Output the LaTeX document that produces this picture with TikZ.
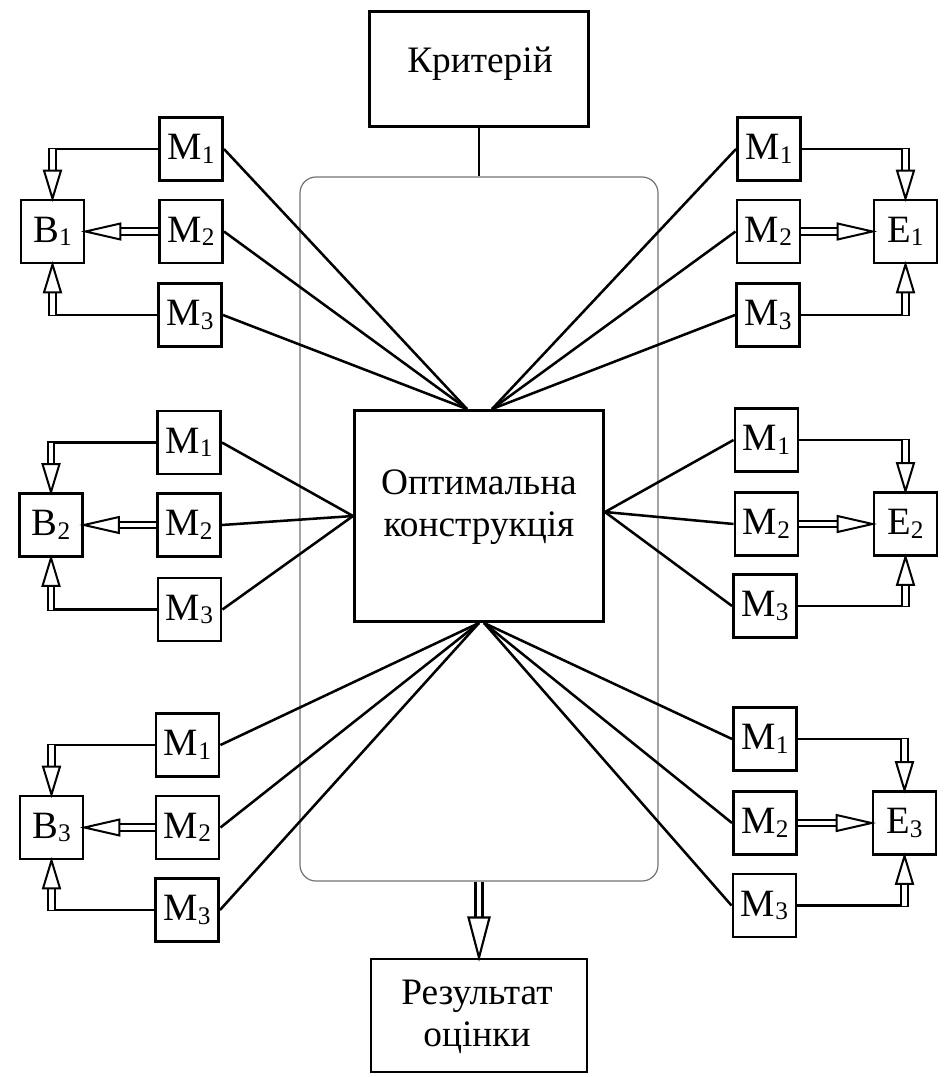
\documentclass[tikz,border=0pt]{standalone}
\usepackage{fontspec}
\setmainfont{Liberation Serif}
\usetikzlibrary{calc}
\newcommand\ix[1]{\raisebox{-2.6pt}{\fontsize{19}{19}\selectfont #1}}
\begin{document}
\begin{tikzpicture}[x=0.75pt,y=-0.75pt,
  box/.style={draw, line width=2.2pt, inner sep=0pt, minimum width=47.25pt, minimum height=47.25pt, font=\fontsize{29}{31}\selectfont},
  lbl/.style={inner sep=0pt, font=\fontsize{28}{31}\selectfont, align=center},
  spoke/.style={line width=1.9pt},
  fb/.style={line width=1.7pt},
  dbl/.style={double, double distance=3.4pt, line width=1.5pt},
  dblb/.style={double, double distance=3.6pt, line width=1.6pt},
  head/.style={fill=white, line width=1.5pt, line join=miter},
]
\useasboundingbox (0,0) rectangle (946,1077);
% frame
\node[draw=black!55, line width=0.9pt, rounded corners=12pt, minimum width=268.5pt, minimum height=528pt, inner sep=0pt] (frame) at (479,529) {};
% main boxes
\node[box, minimum width=164.25pt, minimum height=86.25pt] (crit) at (479,69) {};
\node[lbl, anchor=base] (critl) at (480,73) {Критерій};
\node[box, minimum width=186.75pt, minimum height=158.25pt] (opt) at (479,516) {};
\node[lbl] (optl) at (479,507) {Оптимальна\\конструкція};
\node[box, minimum width=162pt, minimum height=84.75pt] (res) at (479,1015.5) {};
\node[lbl] (resl) at (477,1017) {Результат\\оцінки};
% left groups
\node[box] (B1) at (52.5,231.5) {В\ix{1}};
\node[box] (L11) at (191,149) {М\ix{1}};
\node[box] (L12) at (191,231.5) {М\ix{2}};
\node[box] (L13) at (190,315) {М\ix{3}};
\node[box] (B2) at (51,525) {В\ix{2}};
\node[box] (L21) at (189,442.5) {М\ix{1}};
\node[box] (L22) at (189,525) {М\ix{2}};
\node[box] (L23) at (189.5,609.5) {М\ix{3}};
\node[box] (B3) at (51.5,827.5) {В\ix{3}};
\node[box] (L31) at (187.5,745) {М\ix{1}};
\node[box] (L32) at (187.5,827.5) {М\ix{2}};
\node[box] (L33) at (187,910) {М\ix{3}};
% right groups
\node[box] (E1) at (905.5,231.5) {Е\ix{1}};
\node[box] (R11) at (769,149) {М\ix{1}};
\node[box] (R12) at (768.5,231.5) {М\ix{2}};
\node[box] (R13) at (768,315) {М\ix{3}};
\node[box] (E2) at (905.5,524) {Е\ix{2}};
\node[box] (R21) at (766.5,440) {М\ix{1}};
\node[box] (R22) at (766.5,524) {М\ix{2}};
\node[box] (R23) at (765,606) {М\ix{3}};
\node[box] (E3) at (904.5,823) {Е\ix{3}};
\node[box] (R31) at (765,739) {М\ix{1}};
\node[box] (R32) at (765,823) {М\ix{2}};
\node[box] (R33) at (764.5,905.5) {М\ix{3}};
% convergence points
\coordinate (tl) at ($(opt.north)+(-12,0)$);
\coordinate (tr) at ($(opt.north)+(13,0)$);
\coordinate (ml) at (opt.west);
\coordinate (mr) at ($(opt.east)+(0,-4)$);
\coordinate (bl) at (opt.south);
\coordinate (br) at ($(opt.south)+(5,0)$);
% spokes
\foreach \i in {1,2,3} {
  \draw[spoke] (L1\i.east) -- (tl);
  \draw[spoke] (R1\i.west) -- (tr);
  \draw[spoke] (L2\i.east) -- (ml);
  \draw[spoke] (R2\i.west) -- (mr);
  \draw[spoke] (L3\i.east) -- (bl);
  \draw[spoke] (R3\i.west) -- (br);
}
% criterion link
\draw[fb] (crit.south) -- (frame.north);
% feedback arrows
\foreach \g in {1,2,3} {
  \draw[fb] (L\g1.west) -- ($(B\g.north |- L\g1.west)+(-4.5,0)$);
  \draw[dbl] (B\g.north |- L\g1.west) -- ($(B\g.north)+(0,-28)$);
  \draw[head] (B\g.north) -- ++(-8.5,-28) -- ++(17,0) -- cycle;
  \draw[dbl] (L\g2.west) -- ($(B\g.east)+(35,0)$);
  \draw[head] (B\g.east) -- ++(35,-8) -- ++(0,16) -- cycle;
  \draw[fb] (L\g3.west) -- ($(B\g.south |- L\g3.west)+(-4.5,0)$);
  \draw[dbl] (B\g.south |- L\g3.west) -- ($(B\g.south)+(0,28)$);
  \draw[head] (B\g.south) -- ++(-8.5,28) -- ++(17,0) -- cycle;
  \draw[fb] (R\g1.east) -- ($(E\g.north |- R\g1.east)+(4.5,0)$);
  \draw[dbl] (E\g.north |- R\g1.east) -- ($(E\g.north)+(0,-28)$);
  \draw[head] (E\g.north) -- ++(-8.5,-28) -- ++(17,0) -- cycle;
  \draw[dbl] (R\g2.east) -- ($(E\g.west)+(-35,0)$);
  \draw[head] (E\g.west) -- ++(-35,-8) -- ++(0,16) -- cycle;
  \draw[fb] (R\g3.east) -- ($(E\g.south |- R\g3.east)+(4.5,0)$);
  \draw[dbl] (E\g.south |- R\g3.east) -- ($(E\g.south)+(0,28)$);
  \draw[head] (E\g.south) -- ++(-8.5,28) -- ++(17,0) -- cycle;
}
% result arrow
\draw[dblb] (frame.south) -- ($(res.north)+(0,-40)$);
\draw[head, line width=1.6pt] (res.north) -- ++(-10.5,-40) -- ++(21,0) -- cycle;
\end{tikzpicture}
\end{document}
